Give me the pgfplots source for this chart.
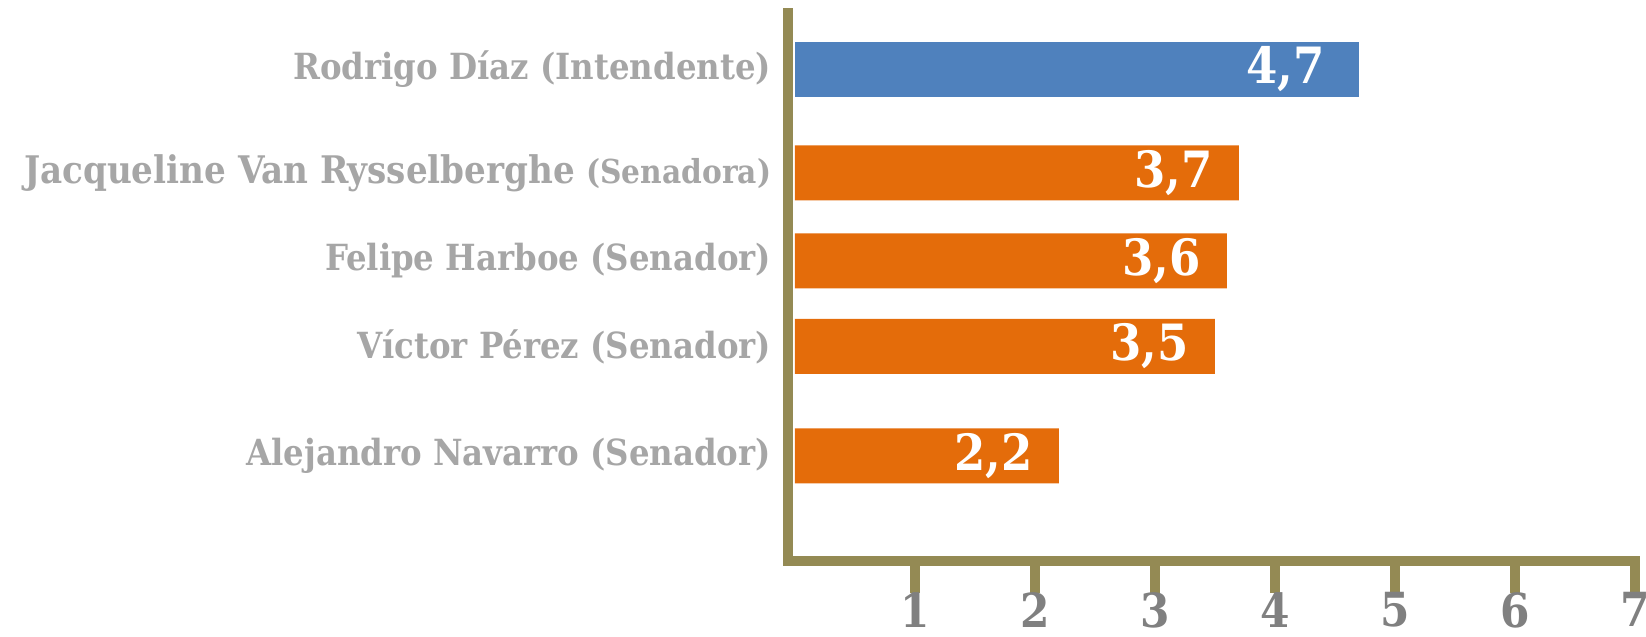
\documentclass[border=0pt]{standalone}
\usepackage{fontspec}
\setmainfont{DejaVu Serif Condensed}
\usepackage{pgfplots}
\usepackage{pgfplotstable}
\pgfplotsset{compat=1.18}
\definecolor{olivec}{HTML}{948A54}
\definecolor{barblue}{HTML}{4F81BD}
\definecolor{barorange}{HTML}{E46C0A}
\definecolor{catgray}{HTML}{A6A6A6}
\definecolor{tickgray}{HTML}{808080}

\pgfplotstableread{
v y lab
4.7 491.5 4,7
}\blueT
\pgfplotstableread{
v y lab
3.7 388 3,7
3.6 300 3,6
3.5 214.5 3,5
2.2 105 2,2
}\orangeT

\begin{document}
\begin{tikzpicture}
\path[use as bounding box] (-394.25pt,-38pt) rectangle (428.75pt,280.5pt);
\begin{axis}[
  at={(0,0)}, anchor=south west,
  scale only axis, width=423.25pt, height=274pt,
  xmin=-0.0542, xmax=7, ymin=0, ymax=548,
  axis x line=bottom, axis y line=left,
  axis line style={draw=olivec, line width=5pt, -, line cap=rect},
  tick align=outside, major tick length=16pt,
  xtick={1,2,3,4,5,6,7},
  xtick style={draw=olivec, line width=5pt},
  ytick={105,214.5,300,388,491.5},
  ytick style={draw=none},
  yticklabels={{Alejandro Navarro (Senador)},{Víctor Pérez (Senador)},{Felipe Harboe (Senador)},{{\fontsize{19}{19}\selectfont Jacqueline Van Rysselberghe} {\fontsize{16.5}{16.5}\selectfont(Senadora)}},{Rodrigo Díaz (Intendente)}},
  xticklabel style={font=\bfseries\fontsize{23.5}{23.5}\selectfont, text=tickgray, anchor=north, inner sep=0pt, yshift=0.5pt},
  yticklabel style={font=\bfseries\fontsize{18}{18}\selectfont, text=catgray, anchor=east, inner sep=0pt, xshift=7.5pt},
  /pgf/number format/assume math mode=true,
  clip=false,
]
\addplot[xbar, bar width=27.5pt, bar shift=0pt, fill=barblue, draw=none,
  point meta=explicit symbolic, nodes near coords,
  every node near coord/.append style={anchor=east, xshift=-17pt, inner sep=0pt, text=white, font=\bfseries\fontsize{25}{25}\selectfont}]
  table[x=v, y=y, meta=lab]{\blueT};
\addplot[xbar, bar width=27.5pt, bar shift=0pt, fill=barorange, draw=none,
  point meta=explicit symbolic, nodes near coords,
  every node near coord/.append style={anchor=east, xshift=-13pt, inner sep=0pt, text=white, font=\bfseries\fontsize{25}{25}\selectfont}]
  table[x=v, y=y, meta=lab]{\orangeT};
\end{axis}
\end{tikzpicture}
\end{document}
